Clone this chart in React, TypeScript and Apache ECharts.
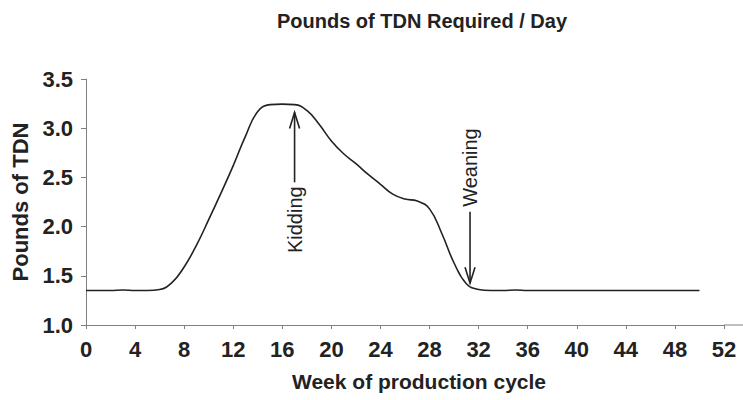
import React, { useEffect, useRef } from "react";
import * as echarts from "echarts";

const weeks: number[] = [
  0, 1, 2, 3, 4, 5, 6, 7, 8, 9, 10, 11, 12, 13, 14, 15, 16, 17, 18, 19, 20,
  21, 22, 23, 24, 25, 26, 27, 28, 29, 30, 31, 32, 33, 34, 35, 36, 38, 40, 42,
  44, 46, 48, 50,
];
const tdn: number[] = [
  1.35, 1.35, 1.35, 1.355, 1.35, 1.35, 1.36, 1.43, 1.59, 1.81, 2.07, 2.34,
  2.62, 2.92, 3.17, 3.24, 3.245, 3.24, 3.18, 3.04, 2.87, 2.74, 2.64, 2.53,
  2.43, 2.33, 2.28, 2.26, 2.18, 1.93, 1.63, 1.42, 1.36, 1.35, 1.35, 1.355,
  1.35, 1.35, 1.35, 1.35, 1.35, 1.35, 1.35, 1.35,
];

const kidding = { week: 17, tip: 3.16, tail: 2.45, label: 2.07, text: "Kidding" };
const weaning = { week: 31.3, tip: 1.425, tail: 2.15, label: 2.6, text: "Weaning" };

const titleText = "Pounds of TDN Required / Day";
const yName = "Pounds of TDN";
const xName = "Week of production cycle";

const TXT = "#222";
const AXIS = "#808080";
const FONT = "Liberation Sans, Arial, sans-serif";

export default function App() {
  const ref = useRef<HTMLDivElement>(null);
  useEffect(() => {
    if (!ref.current) return;
    const chart = echarts.init(ref.current, null, { renderer: "svg" });
    chart.setOption({
      animation: false,
      backgroundColor: "#fff",
      title: {
        text: titleText,
        left: 417,
        top: 6,
        textAlign: "center",
        textStyle: { fontFamily: FONT, fontSize: 20, fontWeight: "bold", color: TXT },
      },
      grid: { left: 86, right: 19, top: 79, bottom: 75, containLabel: false },
      xAxis: {
        type: "value",
        min: 0,
        max: 52,
        interval: 4,
        splitLine: { show: false },
        axisLine: { lineStyle: { color: AXIS, width: 1 } },
        axisTick: { length: 4, lineStyle: { color: AXIS } },
        axisLabel: {
          margin: 13,
          fontFamily: FONT,
          fontSize: 22,
          fontWeight: "bold",
          color: TXT,
        },
      },
      yAxis: {
        type: "value",
        min: 1,
        max: 3.5,
        interval: 0.5,
        splitLine: { show: false },
        axisLine: { show: true, lineStyle: { color: AXIS, width: 1 } },
        axisTick: { show: true, length: 5, lineStyle: { color: AXIS } },
        axisLabel: {
          margin: 13,
          fontFamily: FONT,
          fontSize: 22,
          fontWeight: "bold",
          color: TXT,
          formatter: (v: number) => v.toFixed(1),
        },
        name: yName,
        nameLocation: "middle",
        nameGap: 55,
        nameTextStyle: { fontFamily: FONT, fontSize: 22, fontWeight: "bold", color: TXT },
      },
      series: [
        {
          type: "line",
          data: weeks.map((w, i) => [w, tdn[i]]),
          smooth: 0.45,
          showSymbol: false,
          lineStyle: { color: "#222", width: 1.6 },
        },
      ],
    });

    const P = (x: number, y: number) => chart.convertToPixel({ gridIndex: 0 }, [x, y]) as number[];
    const arrowStyle = { stroke: "#222", lineWidth: 1.6, fill: null };
    const mkArrow = (a: typeof kidding, up: boolean) => {
      const tip = P(a.week, a.tip);
      const tail = P(a.week, a.tail);
      const lab = P(a.week, a.label);
      const dir = up ? 1 : -1;
      return [
        { type: "line", shape: { x1: tail[0], y1: tail[1], x2: tip[0], y2: tip[1] }, style: arrowStyle },
        {
          type: "polyline",
          shape: {
            points: [
              [tip[0] - 5, tip[1] + dir * 16],
              [tip[0], tip[1]],
              [tip[0] + 5, tip[1] + dir * 16],
            ],
          },
          style: arrowStyle,
        },
        {
          type: "text",
          x: lab[0],
          y: lab[1],
          rotation: Math.PI / 2,
          style: {
            text: a.text,
            fontFamily: FONT,
            fontSize: 20,
            fill: TXT,
            align: "center",
            verticalAlign: "middle",
          },
        },
      ];
    };
    const axEnd = P(52, 1);
    chart.setOption({
      graphic: [
        ...mkArrow(kidding, true),
        ...mkArrow(weaning, false),
        {
          type: "line",
          shape: { x1: axEnd[0], y1: axEnd[1], x2: 743, y2: axEnd[1] },
          style: { stroke: AXIS, lineWidth: 1 },
        },
        {
          type: "text",
          x: 419,
          y: 381,
          style: {
            text: xName,
            fontFamily: FONT,
            fontSize: 21,
            fontWeight: "bold",
            fill: TXT,
            align: "center",
            verticalAlign: "middle",
          },
        },
      ],
    });
    return () => chart.dispose();
  }, []);
  return <div ref={ref} style={{ width: 743, height: 400, position: "absolute", left: 0, top: 0 }} />;
}
